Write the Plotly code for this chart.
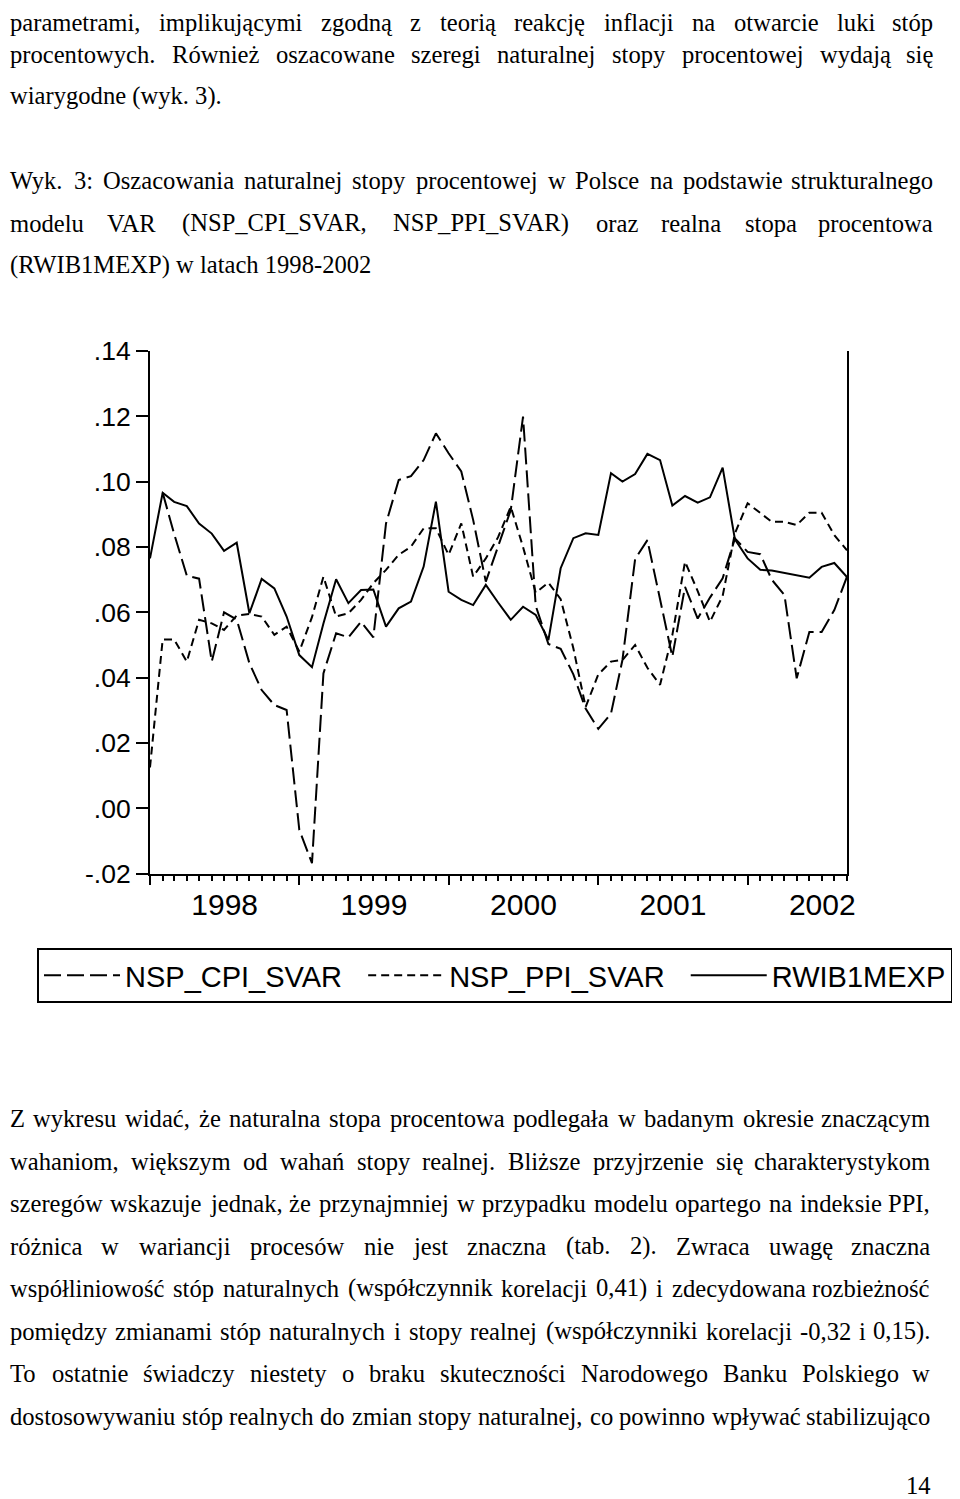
import plotly.graph_objects as go
import pandas as pd

# ---------------- data ----------------
months = pd.date_range("1998-01-01", "2002-09-01", freq="MS")

nsp_cpi_svar = [None, 0.0966, 0.0840, 0.0712, 0.0703, 0.0449, 0.0600, 0.0578, 0.0444, 0.0362,
                0.0316, 0.0301, -0.0066, -0.0168, 0.0413, 0.0536, 0.0523, 0.0571, 0.0523, 0.0872,
                0.1005, 0.1017, 0.1066, 0.1148, 0.1087, 0.1031, 0.0883, 0.0694, 0.0800, 0.0913,
                0.1199, 0.0620, 0.0503, 0.0488, 0.0410, 0.0305, 0.0243, 0.0290, 0.0454, 0.0763,
                0.0821, 0.0640, 0.0464, 0.0678, 0.0581, 0.0645, 0.0704, 0.0826, 0.0785, 0.0778,
                0.0700, 0.0653, 0.0398, 0.0540, 0.0540, 0.0607, 0.0709]

nsp_ppi_svar = [0.0125, 0.0517, 0.0517, 0.0449, 0.0577, 0.0566, 0.0546, 0.0590, 0.0595, 0.0587,
                0.0531, 0.0556, 0.0480, 0.0585, 0.0709, 0.0587, 0.0597, 0.0638, 0.0689, 0.0730,
                0.0776, 0.0801, 0.0857, 0.0857, 0.0776, 0.0872, 0.0709, 0.0765, 0.0830, 0.0923,
                0.0800, 0.0660, 0.0691, 0.0640, 0.0490, 0.0310, 0.0410, 0.0449, 0.0454, 0.0500,
                0.0430, 0.0378, 0.0530, 0.0755, 0.0665, 0.0571, 0.0650, 0.0842, 0.0934, 0.0903,
                0.0877, 0.0877, 0.0867, 0.0905, 0.0905, 0.0836, 0.0790]

rwib1mexp = [0.0765, 0.0966, 0.0938, 0.0925, 0.0872, 0.0841, 0.0788, 0.0813, 0.0597, 0.0702,
             0.0673, 0.0587, 0.0469, 0.0432, 0.0566, 0.0701, 0.0628, 0.0668, 0.0670, 0.0556,
             0.0612, 0.0633, 0.0740, 0.0939, 0.0663, 0.0638, 0.0622, 0.0684, 0.0630, 0.0577,
             0.0617, 0.0592, 0.0515, 0.0735, 0.0827, 0.0842, 0.0837, 0.1026, 0.1000, 0.1023,
             0.1085, 0.1066, 0.0927, 0.0956, 0.0936, 0.0952, 0.1043, 0.0823, 0.0765, 0.0730,
             0.0728, 0.0721, 0.0713, 0.0706, 0.0739, 0.0751, 0.0708]

series_names = ["NSP_CPI_SVAR", "NSP_PPI_SVAR", "RWIB1MEXP"]

y_tick_vals = [0.14, 0.12, 0.10, 0.08, 0.06, 0.04, 0.02, 0.00, -0.02]
y_tick_text = [".14", ".12", ".10", ".08", ".06", ".04", ".02", ".00", "-.02"]

# ---------------- text ----------------
top_lines = [
    ("parametrami, implikującymi zgodną z teorią reakcję inflacji na otwarcie luki stóp", None, True),
    ("procentowych. Również oszacowane szeregi naturalnej stopy procentowej wydają się", 54, True),
    ("wiarygodne (wyk. 3).", 96, False),
    ("Wyk. 3: Oszacowania naturalnej stopy procentowej w Polsce na podstawie strukturalnego", 181, True),
    ("modelu VAR (NSP_CPI_SVAR, NSP_PPI_SVAR) oraz realna stopa procentowa", 223, True),
    ("(RWIB1MEXP) w latach 1998-2002", 265, False),
]
bottom_lines = [
    ("Z wykresu widać, że naturalna stopa procentowa podlegała w badanym okresie znaczącym", 1118, True),
    ("wahaniom, większym od wahań stopy realnej. Bliższe przyjrzenie się charakterystykom", 1161, True),
    ("szeregów wskazuje jednak, że przynajmniej w przypadku modelu opartego na indeksie PPI,", 1203, True),
    ("różnica w wariancji procesów nie jest znaczna (tab. 2). Zwraca uwagę znaczna", 1246, True),
    ("współliniowość stóp naturalnych (współczynnik korelacji 0,41) i zdecydowana rozbieżność", 1288, True),
    ("pomiędzy zmianami stóp naturalnych i stopy realnej (współczynniki korelacji -0,32 i 0,15).", 1331, True),
    ("To ostatnie świadczy niestety o braku skuteczności Narodowego Banku Polskiego w", 1373, True),
    ("dostosowywaniu stóp realnych do zmian stopy naturalnej, co powinno wpływać stabilizująco", 1416, True),
]
page_number = "14"

# ---------------- layout geometry ----------------
# the page body keeps an 8px margin, so the figure is offset by 8px
OFF = 8
FW, FH = 960 - OFF, 1499 - OFF
PL, PR, PT, PB = 150, 847, 351, 873.6  # plot box in page pixels


def px_x(px):
    return (px - OFF) / FW


def px_y(py):
    return (FH - (py - OFF)) / FH


TIMES = {
    " ": 250, "!": 333, "(": 333, ")": 333, ",": 250, "-": 333, ".": 250, "/": 278, ":": 278,
    ";": 278, "_": 500,
    "A": 722, "B": 667, "C": 667, "D": 722, "E": 611, "F": 556, "G": 722, "H": 722, "I": 333,
    "J": 389, "K": 722, "L": 611, "M": 889, "N": 722, "O": 722, "P": 556, "Q": 722, "R": 667,
    "S": 556, "T": 611, "U": 722, "V": 722, "W": 944, "X": 722, "Y": 722, "Z": 611,
    "a": 444, "b": 500, "c": 444, "d": 500, "e": 444, "f": 333, "g": 500, "h": 500, "i": 278,
    "j": 278, "k": 500, "l": 278, "m": 778, "n": 500, "o": 500, "p": 500, "q": 500, "r": 333,
    "s": 389, "t": 278, "u": 500, "v": 500, "w": 722, "x": 500, "y": 500, "z": 444,
    "ą": 444, "ć": 444, "ę": 444, "ł": 278, "ń": 500, "ó": 500, "ś": 389, "ź": 444, "ż": 444,
    "Ż": 611, "Ś": 556, "Ł": 611,
}
for d in "0123456789":
    TIMES[d] = 500


def text_width(s, size):
    return sum(TIMES.get(ch, 500) for ch in s) * size / 1000.0


SERIF = "Liberation Serif, Times New Roman, serif"
SANS = "Liberation Sans, Arial, sans-serif"
TXT_SIZE = 24.6
X_LEFT = 8.5

annotations = []


def add_text_line(text, y, justify, x0=X_LEFT, x1=934, size=TXT_SIZE):
    if y is None:
        ypos, yanc = 1.0, "top"
    else:
        ypos, yanc = px_y(y), "middle"
    if not justify:
        annotations.append(dict(text=text, x=px_x(x0), y=ypos, xref="paper", yref="paper",
                                xanchor="left", yanchor=yanc, showarrow=False, borderpad=0,
                                font=dict(family=SERIF, size=size, color="black")))
        return
    words = text.split(" ")
    widths = [text_width(w, size) for w in words]
    gap = (x1 - x0 - sum(widths)) / (len(words) - 1)
    x = x0
    for i, (w, wd) in enumerate(zip(words, widths)):
        last = i == len(words) - 1
        annotations.append(dict(text=w, x=px_x(x1 if last else x), y=ypos,
                                xref="paper", yref="paper",
                                xanchor="right" if last else "left", yanchor=yanc,
                                showarrow=False, borderpad=0,
                                font=dict(family=SERIF, size=size, color="black")))
        x += wd + gap


for t, y, j in top_lines:
    add_text_line(t, y, j)
for t, y, j in bottom_lines:
    add_text_line(t, y, j, x1=931)

annotations.append(dict(text=page_number, x=px_x(932), y=px_y(1485), xref="paper", yref="paper",
                        xanchor="right", yanchor="middle", showarrow=False, borderpad=0,
                        font=dict(family=SERIF, size=TXT_SIZE, color="black")))

# legend entries padded with non-breaking spaces to spread them like the original
NB = "\u00a0"
legend_pad = [2, 2, 0]

# ---------------- figure ----------------
fig = go.Figure()
fig.add_trace(go.Scatter(x=months, y=nsp_cpi_svar, mode="lines",
                         name=series_names[0] + NB * legend_pad[0],
                         line=dict(color="black", width=2, dash="17px,6px")))
fig.add_trace(go.Scatter(x=months, y=nsp_ppi_svar, mode="lines",
                         name=series_names[1] + NB * legend_pad[1],
                         line=dict(color="black", width=2, dash="8px,5px")))
fig.add_trace(go.Scatter(x=months, y=rwib1mexp, mode="lines",
                         name=series_names[2] + NB * legend_pad[2],
                         line=dict(color="black", width=2)))

fig.update_layout(
    width=FW, height=FH,
    margin=dict(l=0, r=0, t=0, b=0, pad=0, autoexpand=False),
    paper_bgcolor="white", plot_bgcolor="white",
    annotations=annotations,
    showlegend=True,
    legend=dict(orientation="h", x=px_x(37), y=px_y(948), xanchor="left", yanchor="top",
                bordercolor="black", borderwidth=2, bgcolor="white",
                font=dict(family=SANS, size=29, color="black"),
                itemwidth=76, tracegroupgap=0),
    xaxis=dict(type="date", range=[months[0], months[-1]],
               domain=[px_x(PL), px_x(PR)], automargin=False,
               tick0="1998-01-01", dtick="M12", tickformat="%Y", ticklabelmode="period",
               ticks="outside", ticklen=9, tickwidth=2, tickcolor="black",
               ticklabelstandoff=-6,
               showline=True, linewidth=2, linecolor="black",
               showgrid=False, zeroline=False,
               tickfont=dict(family=SANS, size=30, color="black"),
               minor=dict(dtick="M1", ticks="outside", ticklen=5, tickwidth=1.5,
                          tickcolor="black", showgrid=False)),
    yaxis=dict(range=[-0.02, 0.14], domain=[px_y(PB), px_y(PT)], automargin=False,
               tickmode="array", tickvals=y_tick_vals, ticktext=y_tick_text,
               ticks="outside", ticklen=12, tickwidth=2, tickcolor="black",
               showline=True, linewidth=2, linecolor="black", mirror=True,
               showgrid=False, zeroline=False,
               tickfont=dict(family=SANS, size=26.5, color="black")),
)

fig.write_html("out.html")
